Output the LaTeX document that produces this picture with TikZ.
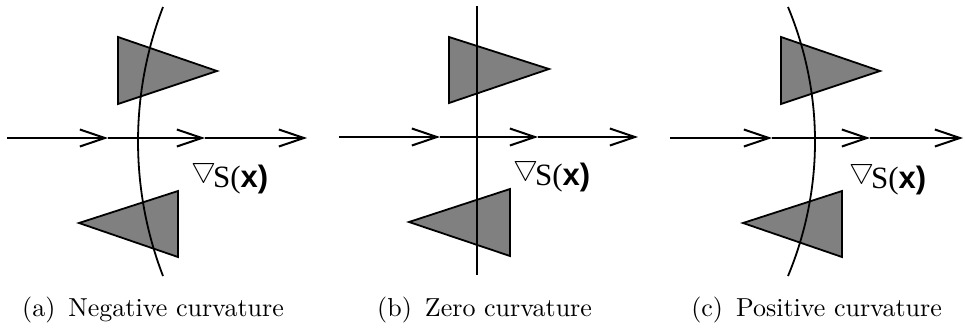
\documentclass[tikz,border=0pt]{standalone}
\usepackage{fontspec}
\usepackage{graphicx}
\usetikzlibrary{arrows.meta}
\newfontfamily\capfont{lmroman10-regular}[Extension=.otf]
\newfontfamily\labserif{Liberation Serif}
\newfontfamily\labsans{Liberation Sans}
\definecolor{trigray}{RGB}{128,128,128}
\newcommand\nablaglyph{\raisebox{10pt}{\scalebox{2.8}{\fontsize{10}{10}\selectfont$\bigtriangledown$}}}
\newcommand\gradlabel{\nablaglyph\hspace{-3pt}{\labserif\fontsize{31}{31}\selectfont S(}{\labsans\bfseries\fontsize{31}{31}\selectfont x)}}
\tikzset{
  tri/.style={draw=black, line width=1.8pt, fill=trigray, line join=miter},
  axis/.style={line width=2pt},
  axisthin/.style={line width=1.3pt},
  barb/.style={-{Straight Barb[length=25pt,width=17pt]}},
  wall/.style={line width=1.8pt},
  lab/.style={anchor=base west, inner sep=0pt},
  captext/.style={inner sep=0pt, font=\capfont\fontsize{26}{26}\selectfont}
}
\begin{document}
\begin{tikzpicture}[x=1pt,y=-1pt]
\useasboundingbox (0,0) rectangle (965,327);
% ---------- panel (a)
\coordinate (a1) at (118,37); \coordinate (a2) at (217,71); \coordinate (a3) at (118,104);
\coordinate (a4) at (178,191); \coordinate (a5) at (79,223); \coordinate (a6) at (178,257);
\draw[tri] (a1) -- (a2) -- (a3) -- cycle;
\draw[tri] (a4) -- (a5) -- (a6) -- cycle;
\coordinate (as) at (7,138); \coordinate (at) at (47,138);
\coordinate (ah1) at (108,138); \coordinate (ah2) at (205,138); \coordinate (ah3) at (307,138);
\draw[axisthin] (as) -- (at);
\draw[axis,barb] (at) -- (ah1);
\draw[axis,barb] (ah1) -- (ah2);
\draw[axis,barb] (ah2) -- (ah3);
\coordinate (atop) at (163,7); \coordinate (abot) at (163,276);
\draw[wall] (atop) .. controls (129.7,93.6) and (129.7,189.4) .. (abot);
\node[lab] (alab) at (191,187) {\gradlabel};
\node[captext, anchor=base west] (acap) at (22,316) {(a)\hspace{0.5em}Negative curvature};
% ---------- panel (b)
\coordinate (b1) at (449,37); \coordinate (b2) at (549,69); \coordinate (b3) at (449,103);
\coordinate (b4) at (510,189); \coordinate (b5) at (409,222); \coordinate (b6) at (510,256);
\draw[tri] (b1) -- (b2) -- (b3) -- cycle;
\draw[tri] (b4) -- (b5) -- (b6) -- cycle;
\coordinate (bs) at (339,137); \coordinate (bt) at (379,137);
\coordinate (bh1) at (440,137); \coordinate (bh2) at (538,137); \coordinate (bh3) at (638,137);
\draw[axisthin] (bs) -- (bt);
\draw[axis,barb] (bt) -- (bh1);
\draw[axis,barb] (bh1) -- (bh2);
\draw[axis,barb] (bh2) -- (bh3);
\coordinate (btop) at (477,6); \coordinate (bbot) at (477,275);
\draw[wall] (btop) -- (bbot);
\node[lab] (blab) at (513,185) {\gradlabel};
\node[captext, anchor=base west] (bcap) at (377,316) {(b)\hspace{0.5em}Zero curvature};
% ---------- panel (c)
\coordinate (c1) at (781,37); \coordinate (c2) at (880,71); \coordinate (c3) at (781,104);
\coordinate (c4) at (842,191); \coordinate (c5) at (743,223); \coordinate (c6) at (842,257);
\draw[tri] (c1) -- (c2) -- (c3) -- cycle;
\draw[tri] (c4) -- (c5) -- (c6) -- cycle;
\coordinate (cs) at (670,138); \coordinate (ct) at (710,138);
\coordinate (ch1) at (772,138); \coordinate (ch2) at (870,138); \coordinate (ch3) at (963,138);
\draw[axisthin] (cs) -- (ct);
\draw[axis,barb] (ct) -- (ch1);
\draw[axis,barb] (ch1) -- (ch2);
\draw[axis,barb] (ch2) -- (ch3);
\coordinate (ctop) at (788,7); \coordinate (cbot) at (788,276);
\draw[wall] (ctop) .. controls (824,93.6) and (824,189.4) .. (cbot);
\node[lab] (clab) at (849,188) {\gradlabel};
\node[captext, anchor=base east] (ccap) at (942,316) {(c)\hspace{0.5em}Positive curvature};
\end{tikzpicture}
\end{document}
